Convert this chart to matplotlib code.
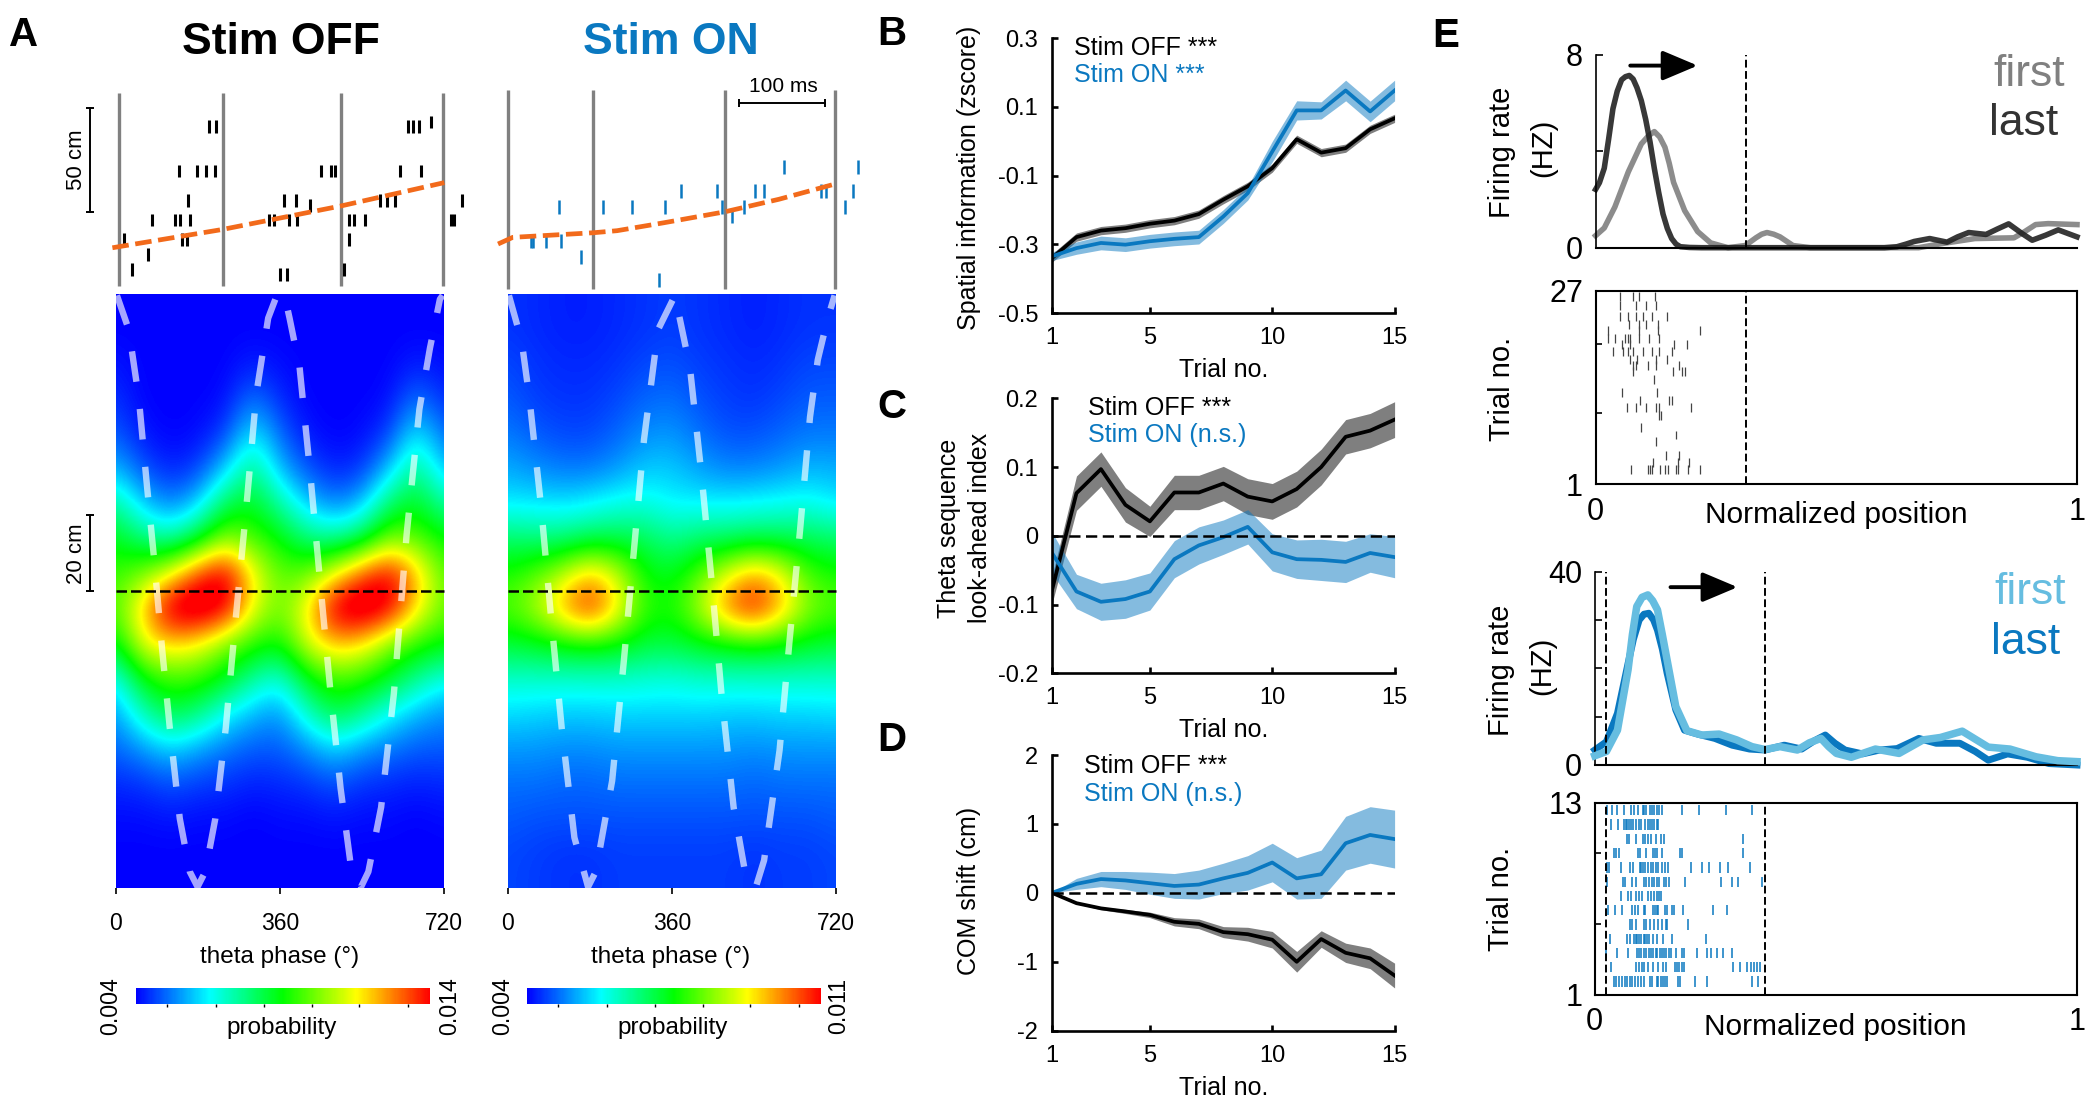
import numpy as np
import matplotlib
matplotlib.use('Agg')
import matplotlib.pyplot as plt
from matplotlib.colors import LinearSegmentedColormap, Normalize
from matplotlib.cm import ScalarMappable

plt.rcParams['font.family'] = ['Liberation Sans', 'DejaVu Sans']

W, H = 2100, 1113
BLUE = '#0a78c0'
LIGHT = '#66bde0'
GRAY = '#808080'
DARK = '#333333'
ORANGE = '#f26a1b'

# panel A, spikes: time (ms), position (cm)
off_t = [105.7, 112.8, 337, 343.5, 350, 364.6, 69.8, 91.6, 101.2, 112.1, 235.8, 248, 252.5, 328, 353,
         80.1, 192.9, 206.3, 223.6, 304.4, 312.7, 322.3, 401, 39, 66, 71.8, 82.7, 175.6, 181.4, 198, 207.6,
         269.1, 274.3, 287.1, 387.7, 390.9, 6.4, 73.7, 79.5, 269.1, 34, 14.7, 263.4, 188.4, 196.7]
off_cm = [76.6, 76.6, 76.6, 76.6, 76.6, 78.8, 55.3, 55.3, 55.3, 55.3, 55.3, 55.3, 55.3, 55.3, 55.3,
          41.2, 41.2, 41.2, 38.8, 41.2, 41.2, 41.2, 41.2, 31.7, 31.7, 31.7, 31.7, 31.7, 31.7, 31.7, 31.7,
          31.7, 31.7, 31.7, 31.7, 31.7, 22.4, 22.4, 22.4, 22.4, 15, 8, 8, 5.6, 5.6]
on_t = [322.3, 408.8, 201.9, 243.5, 288.4, 298, 364.6, 370.4, 403, 59, 110.9, 144.2, 182.6, 249.9, 274.9,
        393.5, 261.5, 26.3, 28.8, 43.6, 60.9, 85.2, 175.6]
on_cm = [57.4, 57.4, 45.7, 45.7, 45.7, 45.7, 45.7, 45.7, 45.7, 37.8, 37.8, 37.8, 37.8, 37.8, 37.8,
         37.8, 33.8, 21.8, 21.8, 21.8, 21.8, 14.1, 2.9]
off_cycles = [0, 121, 259.5, 378]
on_cycles = [0, 98.7, 253.1, 381.3]
off_run_t = [-7.7, 121, 259.5, 380]
off_run_cm = [18.4, 27.2, 38.5, 49.7]
on_run_t = [-12.2, 5, 98.7, 126.9, 181.4, 253.1, 316, 381.3]
on_run_cm = [20.2, 23.4, 25.6, 26.6, 30.4, 35.7, 41.7, 49]

# panel A, probability as percent of the colour scale, rows top to bottom, columns every 60 deg
off_levels = [
    [0, 0, 0, 0, 0, 0, 0, 0, 0, 0, 0, 0, 0],
    [0, 0, 0, 0, 0, 0, 0, 0, 0, 0, 0, 0, 0],
    [2, 0, 0, 0, 0, 3, 1, 0, 0, 0, 0, 3, 1],
    [5, 0, 0, 0, 1, 12, 4, 0, 0, 0, 1, 12, 4],
    [9, 2, 0, 1, 6, 25, 10, 2, 0, 1, 6, 25, 10],
    [18, 8, 3, 6, 20, 38, 18, 8, 3, 5, 19, 38, 18],
    [35, 20, 12, 20, 42, 48, 34, 20, 12, 18, 40, 48, 34],
    [48, 38, 33, 45, 64, 56, 50, 38, 35, 42, 62, 58, 50],
    [55, 62, 74, 94, 105, 76, 58, 60, 74, 92, 103, 82, 58],
    [58, 80, 108, 112, 104, 74, 60, 76, 106, 112, 104, 78, 60],
    [48, 74, 80, 75, 62, 54, 50, 72, 82, 78, 62, 54, 50],
    [25, 50, 56, 55, 48, 35, 27, 48, 57, 54, 47, 36, 27],
    [15, 32, 44, 38, 25, 18, 14, 30, 44, 36, 25, 18, 14],
    [10, 15, 21, 16, 12, 9, 9, 14, 21, 15, 12, 9, 9],
    [4, 5, 8, 6, 5, 3, 4, 5, 8, 5, 4, 3, 4],
    [1, 1, 2, 1, 1, 0, 1, 1, 2, 1, 1, 0, 1],
    [0, 0, 0, 0, 0, 0, 0, 0, 0, 0, 0, 0, 0],
    [0, 0, 0, 0, 0, 0, 0, 0, 0, 0, 0, 0, 0],
]
on_levels = [
    [5, 4, 3, 3, 4, 5, 6, 5, 4, 3, 4, 5, 5],
    [5, 4, 3, 3, 4, 5, 6, 5, 4, 3, 4, 5, 5],
    [7, 5, 4, 4, 5, 7, 8, 6, 5, 4, 5, 7, 7],
    [9, 6, 5, 5, 7, 10, 11, 8, 6, 5, 7, 9, 9],
    [12, 9, 7, 7, 10, 14, 15, 11, 8, 8, 10, 12, 12],
    [17, 14, 12, 12, 15, 20, 20, 16, 13, 13, 15, 18, 17],
    [23, 23, 22, 24, 27, 28, 24, 24, 24, 25, 26, 27, 23],
    [40, 38, 38, 42, 43, 42, 36, 40, 40, 42, 42, 42, 40],
    [52, 58, 68, 82, 70, 50, 47, 58, 72, 85, 75, 56, 52],
    [58, 67, 85, 100, 78, 55, 52, 67, 90, 102, 84, 63, 58],
    [45, 47, 50, 52, 50, 45, 44, 48, 50, 52, 50, 47, 45],
    [30, 30, 30, 30, 30, 29, 28, 30, 30, 30, 30, 30, 30],
    [22, 21, 20, 20, 21, 21, 21, 21, 20, 20, 21, 21, 22],
    [15, 15, 14, 14, 15, 15, 15, 15, 15, 14, 15, 15, 15],
    [11, 11, 10, 10, 11, 11, 11, 11, 11, 10, 11, 11, 11],
    [9, 8, 8, 8, 8, 8, 8, 8, 8, 8, 8, 8, 9],
    [7, 6, 5, 5, 6, 6, 6, 6, 6, 5, 6, 6, 7],
    [7, 6, 5, 5, 6, 6, 6, 6, 6, 5, 6, 6, 7],
]
off_scale = (0.004, 0.014)
on_scale = (0.004, 0.011)
bar_frac = [0.107, 0.272, 0.437, 0.598, 0.76, 0.925]

# theta wave drawn over the heatmaps
off_wave_phase = [2, 28, 50, 67, 84, 101, 118, 140, 162, 179, 196, 218, 241, 263, 286, 308, 334, 353, 370, 381,
                  403, 426, 448, 470, 493, 515, 538, 554, 582, 610, 638, 666, 689, 711, 717]
off_wave_cm = [78, 69, 51, 29, 8, -15, -36, -60, -74, -78, -74, -60, -36, -7, 22, 52, 72, 78, 78, 72,
               59, 31.5, 2.5, -25.5, -52, -72, -78, -74, -57, -27, 15, 48, 64, 77, 78]
on_wave_phase = [2, 30, 47, 73, 94, 118, 146, 176, 193, 229, 255, 277, 299, 330, 367, 400, 426, 449, 470, 496,
                 524, 545, 563, 597, 619, 642, 664, 681, 703, 718]
on_wave_cm = [78, 66, 51, 22, -6, -36, -65, -78, -74, -50, -18, 11, 40, 69, 78, 59, 30, 1, -28, -57,
              -76, -78, -71, -42, -13, 16, 46, 61, 72, 78]

# panels B, C, D
trials = np.arange(1, 16)
b_off = [-0.34, -0.279, -0.26, -0.253, -0.24, -0.231, -0.212, -0.17, -0.131, -0.078, 0.006, -0.033, -0.02, 0.035, 0.067]
b_off_sem = [0.012] * 15
b_on = [-0.335, -0.311, -0.296, -0.301, -0.291, -0.284, -0.279, -0.219, -0.151, -0.03, 0.09, 0.09, 0.148, 0.087, 0.148]
b_on_sem = [0.012, 0.018, 0.02, 0.02, 0.02, 0.02, 0.02, 0.02, 0.02, 0.03, 0.028, 0.025, 0.03, 0.03, 0.03]
c_off = [-0.079, 0.062, 0.097, 0.045, 0.021, 0.063, 0.063, 0.076, 0.057, 0.05, 0.068, 0.1, 0.144, 0.153, 0.169]
c_off_sem = [0.02, 0.025, 0.025, 0.025, 0.022, 0.025, 0.025, 0.025, 0.026, 0.026, 0.026, 0.026, 0.025, 0.025, 0.026]
c_on = [-0.025, -0.081, -0.096, -0.092, -0.081, -0.034, -0.014, -0.002, 0.013, -0.024, -0.034, -0.035, -0.038, -0.025, -0.031]
c_on_sem = [0.03, 0.025, 0.027, 0.028, 0.027, 0.027, 0.027, 0.025, 0.025, 0.027, 0.028, 0.03, 0.03, 0.028, 0.03]
d_off = [0, -0.15, -0.225, -0.27, -0.32, -0.42, -0.45, -0.57, -0.6, -0.68, -1.0, -0.67, -0.87, -0.95, -1.2]
d_off_sem = [0, 0.01, 0.02, 0.03, 0.04, 0.06, 0.07, 0.08, 0.1, 0.12, 0.15, 0.12, 0.14, 0.15, 0.18]
d_on = [0, 0.13, 0.2, 0.18, 0.14, 0.1, 0.12, 0.21, 0.29, 0.44, 0.21, 0.27, 0.72, 0.84, 0.78]
d_on_sem = [0, 0.08, 0.11, 0.13, 0.16, 0.18, 0.21, 0.22, 0.25, 0.28, 0.3, 0.35, 0.39, 0.41, 0.42]

# panel E, stim off cell
e1_last_x = [0, .008, .018, .027, .036, .045, .054, .062, .07, .078, .086, .095, .104, .113, .122, .131, .14, .149, .158, .167, .176, .195, .22, .536, .6, .626, .645, .662, .694, .73, .752, .775, .811, .835, .858, .885, .907, .935, .961, 1]
e1_last_y = [2.42, 2.7, 3.3, 4.5, 5.77, 6.5, 6.97, 7.1, 7.15, 7.0, 6.64, 6.1, 5.33, 4.4, 3.29, 2.3, 1.4, .8, .38, .15, .04, .01, 0, 0, 0, .04, .15, .26, .38, .23, .45, .63, .55, .78, .99, .6, .31, .52, .74, .45]
e1_first_x = [0, .018, .04, .068, .095, .11, .122, .133, .144, .153, .162, .185, .212, .239, .275, .311, .333, .345, .356, .37, .383, .41, .446, .671, .716, .788, .869, .89, .914, .94, 1]
e1_first_y = [.5, .82, 1.69, 3.15, 4.31, 4.65, 4.82, 4.6, 4.17, 3.5, 2.71, 1.54, .67, .2, 0, .09, .41, .56, .63, .56, .45, .09, 0, 0, .16, .38, .41, .65, .96, 1.0, .96]
e1_rows = [26.3, 25.1, 23.6, 22.5, 21.7, 20.6, 19.8, 18.8, 17.8, 17, 16.1, 15.1, 13.3, 12.3, 11.3, 10.2, 8.6, 7.6, 6.7, 4.8, 3.9, 2.9]
e1_spikes = [
    [.05, .078, .09, .123],
    [.051, .083, .104, .126],
    [.051, .068, .083, .099, .117, .149],
    [.069, .09, .104, .129],
    [.025, .09, .129, .216],
    [.025, .041, .061, .068, .072, .09, .11, .132],
    [.054, .072, .162, .189],
    [.036, .057, .068, .077, .099, .117, .132, .159],
    [.072, .086, .126, .149],
    [.077, .083, .108, .126, .173],
    [.077, .16, .18, .185],
    [.122],
    [.054, .128],
    [.093, .153, .158],
    [.066, .084, .105, .126, .132, .199],
    [.132, .136],
    [.095],
    [.167],
    [.126],
    [.147, .174],
    [.12, .171, .194],
    [.073, .108, .113, .117, .133, .144, .15, .167, .171, .192, .216],
]

# panel E, stim on cell
e2_last_x = [0, .024, .047, .069, .08, .092, .102, .112, .122, .13, .14, .15, .168, .186, .213, .249, .285, .321, .353, .393, .429, .455, .478, .498, .519, .555, .591, .627, .672, .708, .757, .789, .816, .856, .897, .942, 1]
e2_last_y = [3.1, 4.8, 10.7, 21, 26, 30, 31.2, 31.4, 30, 27.9, 24, 19, 11.4, 7.2, 6.4, 5.5, 4.1, 3.3, 3.1, 4.1, 3.3, 5, 6.2, 4.5, 3.1, 2.3, 3.1, 3.4, 5.5, 4.5, 4.5, 2.8, 1, 2.3, 1.6, .3, 0]
e2_first_x = [0, .024, .047, .069, .078, .087, .098, .11, .12, .13, .14, .15, .168, .191, .222, .258, .294, .326, .353, .384, .42, .445, .469, .485, .501, .532, .582, .631, .681, .717, .762, .816, .861, .915, .96, 1]
e2_first_y = [1.9, 2.8, 7.2, 19.7, 27, 32.8, 34.7, 35.2, 34, 32.1, 27, 21.7, 12.1, 7.1, 6.2, 6.4, 5.2, 3.8, 3.2, 3.8, 3.1, 4.6, 5.5, 3.8, 2.4, 1.6, 3.3, 2.4, 5.2, 5.7, 7, 3.7, 3.3, 1.7, .9, .7]
e2_rows = list(range(13, 0, -1))
e2_spikes = [
    [.026, .035, .047, .06, .076, .081, .089, .1, .103, .107, .114, .119, .123, .129, .134, .139, .181, .216, .272, .327],
    [.034, .049, .06, .064, .067, .071, .076, .079, .085, .092, .096, .105, .11, .114, .119, .123, .128, .132],
    [.067, .071, .085, .1, .105, .111, .117, .126, .138, .143, .308],
    [.04, .044, .051, .089, .094, .107, .12, .124, .13, .139, .177, .181, .308],
    [.026, .03, .054, .074, .079, .093, .096, .1, .105, .111, .116, .121, .127, .132, .139, .146, .152, .2, .222, .236, .26, .277, .321],
    [.026, .058, .063, .078, .085, .102, .107, .112, .118, .123, .129, .134, .143, .148, .154, .188, .262, .285, .298, .346],
    [.054, .069, .076, .085, .091, .098, .111, .117, .122, .128, .133, .138],
    [.027, .042, .056, .078, .084, .089, .101, .105, .121, .125, .129, .132, .146, .15, .161, .165, .183, .245, .274],
    [.073, .078, .085, .101, .106, .114, .123, .132, .139, .147, .15, .193],
    [.031, .066, .073, .081, .085, .088, .092, .095, .101, .104, .108, .112, .121, .13, .141, .161, .231],
    [.024, .046, .069, .087, .092, .096, .102, .107, .112, .117, .121, .126, .13, .135, .139, .144, .148, .153, .157, .168, .18, .186, .211, .233, .242, .254, .265, .285],
    [.034, .085, .092, .098, .103, .11, .12, .132, .141, .148, .166, .171, .175, .18, .184, .286, .301, .316, .323, .33, .337, .343],
    [.04, .044, .051, .057, .062, .067, .073, .078, .084, .089, .096, .103, .114, .119, .128, .132, .137, .141, .146, .15, .173, .177, .208, .232, .326, .338],
]

fig = plt.figure(figsize=(W / 100, H / 100), dpi=100, facecolor='w')
jet5 = LinearSegmentedColormap.from_list('jet5', ['#0000ff', '#00ffff', '#00ff00', '#ffff00', '#ff0000'], 256)


def px_axes(x0, y0, x1, y1):
    return fig.add_axes([x0 / W, 1 - y1 / H, (x1 - x0) / W, (y1 - y0) / H])


def px_text(x, y, s, size=18, **kw):
    kw.setdefault('ha', 'center')
    kw.setdefault('va', 'center')
    return fig.text(x / W, 1 - y / H, s, fontsize=size, **kw)


def letter(x, y, s):
    px_text(x, y, s, size=29, fontweight='bold')


def raster(box, xlim, ylim, times, cms, cycles, cyc_ymin, cyc_ymax, run_t, run_cm, color, lw, hh):
    ax = px_axes(*box)
    ax.set_xlim(*xlim)
    ax.set_ylim(*ylim)
    ax.axis('off')
    ax.vlines(cycles, cyc_ymin, cyc_ymax, color=GRAY, lw=2.4)
    ax.vlines(times, np.array(cms) - hh, np.array(cms) + hh, color=color, lw=lw)
    ax.plot(run_t, run_cm, color=ORANGE, lw=3.4, dashes=(3.5, 1.4))
    return ax


def heatmap(box, levels, scale, wave_x, wave_y):
    ax = px_axes(*box)
    prob = scale[0] + np.array(levels) / 100 * (scale[1] - scale[0])
    dx = 60
    dy = 156.6 / 17
    ax.imshow(prob, cmap=jet5, vmin=scale[0], vmax=scale[1], aspect='auto', interpolation='bicubic',
              extent=[-dx / 2, 720 + dx / 2, -78.3 - dy / 2, 78.3 + dy / 2], origin='upper')
    ax.set_xlim(0, 720)
    ax.set_ylim(-78.3, 78.3)
    ax.plot(wave_x, wave_y, color='w', alpha=0.65, lw=4.6, dashes=(4.8, 4.3))
    ax.plot([0, 720], [0, 0], color='k', lw=1.8, dashes=(4.2, 1.6), clip_on=False)
    for s in ax.spines.values():
        s.set_visible(False)
    ax.set_yticks([])
    ax.set_xticks([0, 360, 720])
    ax.tick_params(axis='x', length=4.3, width=1.2, pad=13, labelsize=16.5)
    return ax


def colorbar(box, scale):
    cax = px_axes(*box)
    sm = ScalarMappable(Normalize(*scale), jet5)
    cb = fig.colorbar(sm, cax=cax, orientation='horizontal')
    cb.outline.set_visible(False)
    cb.set_ticks([scale[0] + f * (scale[1] - scale[0]) for f in bar_frac])
    cb.ax.tick_params(length=2.5, width=1, labelbottom=False)


def trial_panel(box, ylim, yticks, yticklabels, off, off_sem, on, on_sem, dashed=False):
    ax = px_axes(*box)
    off, off_sem, on, on_sem = map(np.array, (off, off_sem, on, on_sem))
    ax.fill_between(trials, off - off_sem, off + off_sem, color='k', alpha=0.5, lw=0)
    ax.fill_between(trials, on - on_sem, on + on_sem, color=BLUE, alpha=0.5, lw=0)
    ax.plot(trials, off, color='k', lw=2.7)
    ax.plot(trials, on, color=BLUE, lw=2.7)
    if dashed:
        ax.plot([1, 15], [0, 0], color='k', lw=1.8, dashes=(4.5, 2.2))
    ax.set_xlim(1, 15)
    ax.set_ylim(*ylim)
    ax.set_xticks([1, 5, 10, 15])
    ax.set_yticks(yticks)
    ax.set_yticklabels(yticklabels)
    ax.spines['top'].set_visible(False)
    ax.spines['right'].set_visible(False)
    ax.spines['left'].set_linewidth(1.9)
    ax.spines['bottom'].set_linewidth(1.9)
    ax.tick_params(axis='y', direction='in', length=4.5, width=1.9, pad=10, labelsize=17)
    ax.tick_params(axis='x', direction='in', length=4.5, width=1.9, pad=10, labelsize=17)
    return ax


def rate_panel(box, ymax, yticks, yticklabels, first, last, first_c, last_c, first_lw, last_lw, dash_x, arrow, alpha):
    ax = px_axes(*box)
    ax.plot(first[0], first[1], color=first_c, lw=first_lw, clip_on=False, alpha=alpha, solid_joinstyle='round')
    ax.plot(last[0], last[1], color=last_c, lw=last_lw, clip_on=False, alpha=alpha, solid_joinstyle='round')
    if first_c == LIGHT:
        # light trace sits on top in the stim on cell
        ax.lines[0].set_zorder(3)
    for x in dash_x:
        ax.plot([x, x], [0, ymax], color='k', lw=1.4, dashes=(4, 1.8), zorder=4)
    ax.annotate('', xy=(arrow[1], arrow[2]), xytext=(arrow[0], arrow[2]),
                arrowprops=dict(arrowstyle='-|>,head_length=0.9,head_width=0.38', lw=2.8, color='k',
                                shrinkA=0, shrinkB=0, mutation_scale=24))
    ax.set_xlim(0, 1)
    ax.set_ylim(0, ymax)
    ax.set_xticks([])
    ax.set_yticks(yticks)
    ax.set_yticklabels(yticklabels)
    ax.spines['top'].set_visible(False)
    ax.spines['right'].set_visible(False)
    ax.spines['left'].set_linewidth(1.2)
    ax.spines['bottom'].set_linewidth(1.5)
    ax.tick_params(axis='y', direction='in', length=4.7, width=1.2, pad=9, labelsize=22)
    return ax


def spike_panel(box, ylim, yticks, yticklabels, rows, spikes, color, length, lw, dash_x):
    ax = px_axes(*box)
    ax.eventplot(spikes, lineoffsets=rows, linelengths=length, linewidths=lw, colors=color)
    for x in dash_x:
        ax.plot([x, x], ylim, color='k', lw=1.4, dashes=(4, 1.8), zorder=4)
    ax.set_xlim(0, 1)
    ax.set_ylim(*ylim)
    ax.set_xticks([0] + dash_x[-1:] + [1])
    ax.set_xticklabels(['0', '', '1'])
    ax.set_yticks(yticks)
    ax.set_yticklabels(yticklabels)
    for s in ax.spines.values():
        s.set_linewidth(1.5)
    ax.tick_params(axis='both', direction='in', length=4.5, width=1.2, pad=9, labelsize=22)
    return ax


# panel A
raster((60, 85, 470, 295), (-68.9, 410), (-4.3, 96.6), off_t, off_cm, off_cycles, 0, 92.8,
       off_run_t, off_run_cm, 'k', 2.2, 3.05)
ax = fig.axes[-1]
ax.plot([-33.9, -33.9], [35.6, 85.6], color='k', lw=1.4, marker='_', ms=6, mew=1.4)

ax = raster((490, 85, 865, 295), (-21.6, 416.5), (-4.3, 96.6), on_t, on_cm, on_cycles, -1.4, 94.2,
            on_run_t, on_run_cm, BLUE, 1.8, 3.4)
ax.plot([269.3, 369.2], [88.1, 88.1], color='k', lw=1.4, marker='|', ms=6, mew=1.4)

ax = heatmap((116, 294.3, 444, 888), off_levels, off_scale, off_wave_phase, off_wave_cm)
ax.plot([-58, -58], [0, 20], color='k', lw=1.4, marker='_', ms=6, mew=1.4, clip_on=False)
heatmap((508, 294.3, 835.5, 888), on_levels, on_scale, on_wave_phase, on_wave_cm)
colorbar((135.5, 988, 430, 1004), off_scale)
colorbar((527, 988, 821, 1004), on_scale)

letter(24, 35, 'A')
px_text(281, 43, 'Stim OFF', size=32, fontweight='bold')
px_text(671, 43, 'Stim ON', size=32, fontweight='bold', color=BLUE)
px_text(783, 87, '100 ms', size=15)
px_text(77, 160, '50 cm', size=16, rotation=90)
px_text(77, 554, '20 cm', size=16, rotation=90)
px_text(280, 957, 'theta phase (°)', size=17.5)
px_text(671, 957, 'theta phase (°)', size=17.5)
px_text(282, 1028, 'probability', size=17.5)
px_text(673, 1028, 'probability', size=17.5)
px_text(111, 1006, '0.004', size=16.7, rotation=90)
px_text(450, 1006, '0.014', size=16.7, rotation=90)
px_text(503, 1006, '0.004', size=16.7, rotation=90)
px_text(839, 1006, '0.011', size=16.7, rotation=90)

# panel B
trial_panel((1052, 38.3, 1394.6, 313), (-0.5, 0.3), [0.3, 0.1, -0.1, -0.3, -0.5],
            ['0.3', '0.1', '-0.1', '-0.3', '-0.5'], b_off, b_off_sem, b_on, b_on_sem)
letter(892, 34, 'B')
px_text(969, 177.5, 'Spatial information (zscore)', rotation=90)
px_text(1224, 370, 'Trial no.')
px_text(1074, 48, 'Stim OFF ***', ha='left')
px_text(1074, 75, 'Stim ON ***', ha='left', color=BLUE)

# panel C
trial_panel((1052, 398.3, 1394.6, 673.3), (-0.2, 0.2), [0.2, 0.1, 0, -0.1, -0.2],
            ['0.2', '0.1', '0', '-0.1', '-0.2'], c_off, c_off_sem, c_on, c_on_sem, dashed=True)
letter(892, 407, 'C')
px_text(948.6, 528, 'Theta sequence', rotation=90)
px_text(979.6, 528, 'look-ahead index', rotation=90)
px_text(1224, 730, 'Trial no.')
px_text(1087.5, 408, 'Stim OFF ***', ha='left')
px_text(1087.5, 435, 'Stim ON (n.s.)', ha='left', color=BLUE)

# panel D
trial_panel((1052, 755, 1394.6, 1030.7), (-2, 2), [2, 1, 0, -1, -2],
            ['2', '1', '0', '-1', '-2'], d_off, d_off_sem, d_on, d_on_sem, dashed=True)
letter(892, 740, 'D')
px_text(969, 891, 'COM shift (cm)', rotation=90)
px_text(1224, 1088, 'Trial no.')
px_text(1084, 766, 'Stim OFF ***', ha='left')
px_text(1084, 794, 'Stim ON (n.s.)', ha='left', color=BLUE)

# panel E
rate_panel((1595.6, 55, 2077, 247.7), 8, [0, 4, 8], ['0', '', '8'],
           (e1_first_x, e1_first_y), (e1_last_x, e1_last_y), GRAY, '#222222', 4, 4, [.3126], (.072, .212, 7.56), 0.9)
spike_panel((1595.6, 291, 2077, 484), (1, 27), [1, 10.5, 19.8, 27], ['1', '', '', '27'],
            e1_rows, e1_spikes, '#444444', 1.2, 0.9, [.3126])
letter(1446, 36, 'E')
px_text(2029, 74, 'first', size=32, color=GRAY)
px_text(2024, 124, 'last', size=32, color=DARK)
px_text(1502, 152.6, 'Firing rate', size=21, rotation=90)
px_text(1543.6, 148, '(HZ)', size=21, rotation=90)
px_text(1502, 388.6, 'Trial no.', size=21, rotation=90)
px_text(1836, 515, 'Normalized position', size=21.5)

rate_panel((1594.8, 571.7, 2077, 765), 40, [0, 10, 20, 30, 40], ['0', '', '', '', '40'],
           (e2_first_x, e2_first_y), (e2_last_x, e2_last_y), LIGHT, BLUE, 5.4, 5, [.0234, .3525], (.157, .296, 36.8), 1)
spike_panel((1594.8, 803, 2077, 995), (0.06, 13.51), [0.06, 5, 10, 13.51], ['1', '', '', '13'],
            e2_rows, e2_spikes, BLUE, 0.72, 1.1, [.0234, .3525])
px_text(2030, 593, 'first', size=32, color=LIGHT)
px_text(2026, 643, 'last', size=32, color=BLUE)
px_text(1501, 670, 'Firing rate', size=21, rotation=90)
px_text(1542, 666, '(HZ)', size=21, rotation=90)
px_text(1501, 899, 'Trial no.', size=21, rotation=90)
px_text(1835, 1027, 'Normalized position', size=21.5)

plt.savefig('out.png', dpi=100)
